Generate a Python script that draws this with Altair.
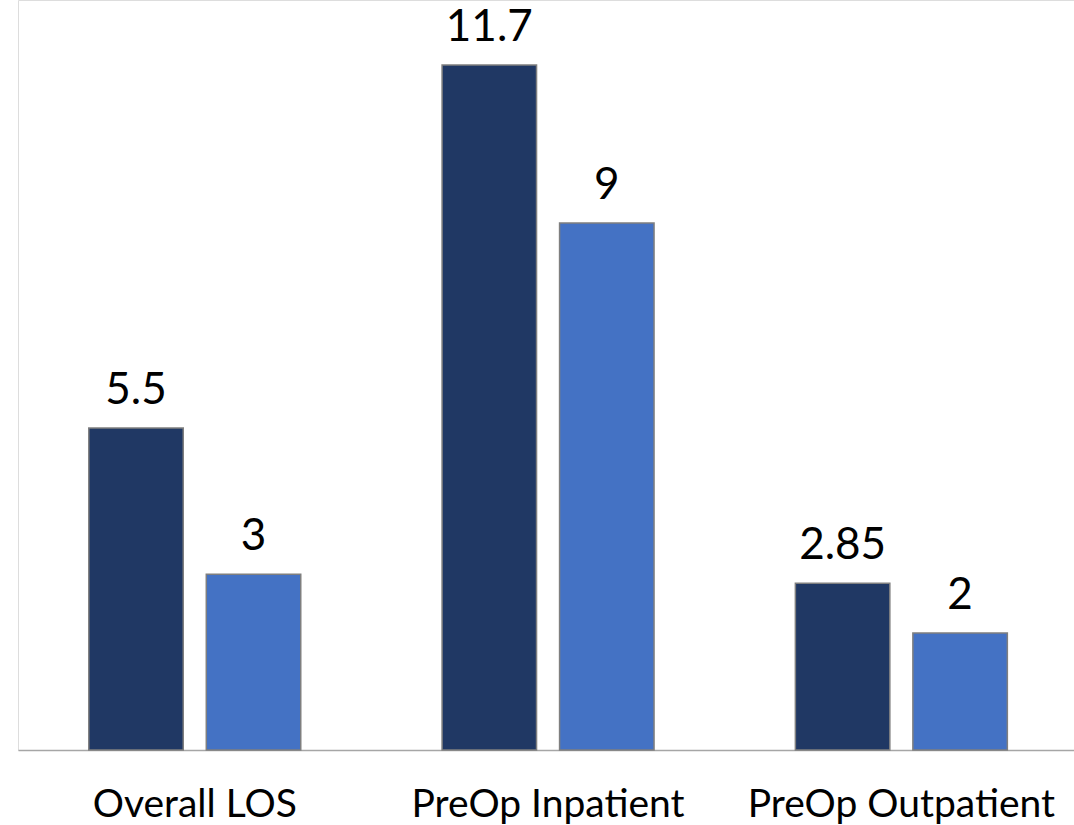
import altair as alt
import pandas as pd

categories = ["Overall LOS", "PreOp Inpatient", "PreOp Outpatient"]
series_names = ["Series 1", "Series 2"]
series_1 = [5.5, 11.7, 2.85]
series_2 = [3, 9, 2]
value_labels_1 = ["5.5", "11.7", "2.85"]
value_labels_2 = ["3", "9", "2"]
colors = ["#203864", "#4472C4"]

rows = []
for cat, v1, v2, l1, l2 in zip(categories, series_1, series_2, value_labels_1, value_labels_2):
    rows.append({"category": cat, "series": series_names[0], "value": v1, "label": l1})
    rows.append({"category": cat, "series": series_names[1], "value": v2, "label": l2})
df = pd.DataFrame(rows)

FONT = "Lato"

x = alt.X(
    "category:N",
    sort=categories,
    scale=alt.Scale(paddingInner=0.4, paddingOuter=0.1945, align=0.515),
    axis=alt.Axis(
        title=None,
        labelAngle=0,
        ticks=False,
        domainColor="#a6a6a6",
        domainWidth=1.5,
        labelFont=FONT,
        labelFontSize=39,
        labelColor="#000000",
        labelBaseline="alphabetic",
        labelPadding=66,
        labelLimit=500,
    ),
)
x_off = alt.XOffset("series:N", sort=series_names, scale=alt.Scale(paddingInner=0.196))
y = alt.Y("value:Q", scale=alt.Scale(domain=[0, 12.81], nice=False), axis=None)

bars = alt.Chart(df).mark_bar(stroke="#7f7f7f", strokeWidth=1.5).encode(
    x=x,
    xOffset=x_off,
    y=y,
    color=alt.Color("series:N", sort=series_names,
                    scale=alt.Scale(domain=series_names, range=colors), legend=None),
)

labels = alt.Chart(df).mark_text(
    font=FONT, fontSize=44, color="#000000", baseline="alphabetic", dy=-24
).encode(
    x=x,
    xOffset=x_off,
    y=y,
    text="label:N",
)

chart = (
    alt.layer(bars, labels)
    .properties(
        width=1056,
        height=750,
        padding={"left": 18, "top": 0, "right": 0, "bottom": 75},
        autosize=alt.AutoSizeParams(type="none"),
    )
    .configure_view(stroke=None)
    .configure(background="#ffffff")
)

chart.save("out.html", embed_options={"renderer": "svg", "actions": False})
